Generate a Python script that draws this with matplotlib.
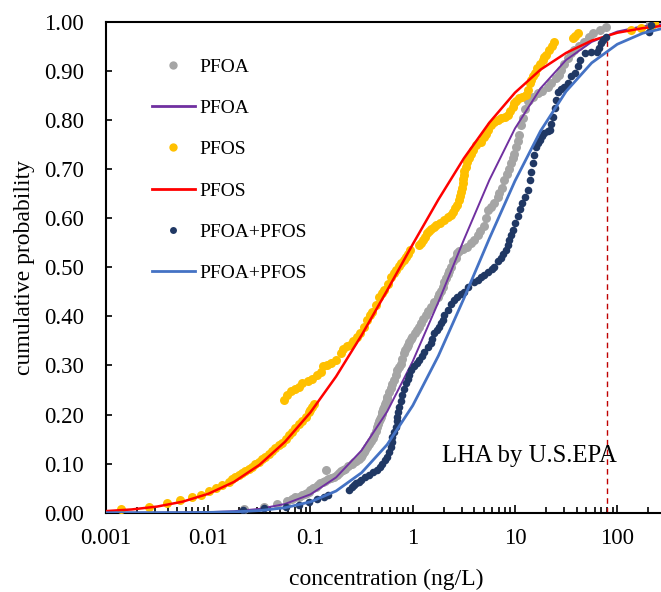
import numpy as np
import matplotlib
matplotlib.use("Agg")
import matplotlib.pyplot as plt
from matplotlib.lines import Line2D
from matplotlib.ticker import FixedLocator, FuncFormatter, LogLocator, NullFormatter

plt.rcParams['font.family'] = ['Liberation Serif', 'DejaVu Serif']

# ---- observed data (concentration ng/L, cumulative probability) ----
pfoa_x = [0.0222, 0.0348, 0.047, 0.059, 0.066, 0.071, 0.077, 0.083, 0.088, 0.092,
          0.096, 0.100, 0.106, 0.112, 0.118, 0.125, 0.132, 0.14, 0.148, 0.157,
          0.143, 0.168, 0.18, 0.19, 0.20, 0.21, 0.22, 0.235, 0.256, 0.268,
          0.28, 0.295, 0.309, 0.32, 0.33, 0.345, 0.36, 0.375, 0.39, 0.405,
          0.42, 0.435, 0.45, 0.46, 0.47, 0.478, 0.486, 0.495, 0.505, 0.515,
          0.524, 0.535, 0.545, 0.555, 0.565, 0.585, 0.61, 0.632, 0.656, 0.68,
          0.707, 0.735, 0.762, 0.79, 0.822, 0.845, 0.87, 0.895, 0.92, 0.956,
          0.99, 1.05, 1.11, 1.15, 1.2, 1.27, 1.34, 1.42, 1.5, 1.62,
          1.75, 1.82, 1.88, 1.96, 2.04, 2.11, 2.2, 2.28, 2.36, 2.5,
          2.64, 2.74, 2.85, 3.1, 3.4, 3.7, 3.95, 4.31, 4.6, 5.0,
          5.2, 5.4, 5.8, 6.27, 6.76, 7.0, 7.4, 7.85, 8.4, 8.8,
          9.1, 9.5, 9.8, 10.2, 10.6, 11.0, 11.5, 11.9, 12.6, 13.3,
          13.8, 15.0, 16.7, 18.5, 20.9, 22.5, 25.2, 26.7, 28.3, 30.5,
          32.9, 35.4, 38.1, 42.5, 47.8, 52.5, 57.8, 67.1, 78, 207]
pfoa_y = [0.008, 0.012, 0.018, 0.024, 0.027, 0.031, 0.033, 0.036, 0.038, 0.041,
          0.043, 0.046, 0.050, 0.053, 0.057, 0.060, 0.062, 0.065, 0.068, 0.070,
          0.087, 0.073, 0.077, 0.080, 0.084, 0.087, 0.090, 0.095, 0.100, 0.103,
          0.106, 0.110, 0.114, 0.118, 0.123, 0.128, 0.134, 0.140, 0.146, 0.152,
          0.158, 0.166, 0.175, 0.180, 0.186, 0.191, 0.196, 0.201, 0.206, 0.211,
          0.216, 0.221, 0.226, 0.231, 0.236, 0.245, 0.254, 0.262, 0.270, 0.280,
          0.290, 0.297, 0.304, 0.314, 0.325, 0.331, 0.337, 0.342, 0.348, 0.355,
          0.359, 0.366, 0.372, 0.379, 0.386, 0.395, 0.403, 0.411, 0.420, 0.430,
          0.440, 0.446, 0.452, 0.460, 0.470, 0.478, 0.486, 0.493, 0.501, 0.512,
          0.520, 0.529, 0.533, 0.537, 0.542, 0.549, 0.556, 0.565, 0.574, 0.585,
          0.600, 0.617, 0.624, 0.631, 0.644, 0.651, 0.662, 0.678, 0.690, 0.700,
          0.712, 0.722, 0.732, 0.745, 0.758, 0.770, 0.790, 0.805, 0.822, 0.838,
          0.841, 0.848, 0.855, 0.860, 0.867, 0.875, 0.885, 0.893, 0.902, 0.914,
          0.926, 0.936, 0.943, 0.951, 0.960, 0.969, 0.977, 0.984, 0.990, 0.997]

pfos_x = [0.00139, 0.00266, 0.00394, 0.0053, 0.0069, 0.0085, 0.0101, 0.0119, 0.0137, 0.0158,
          0.0171, 0.0184, 0.0199, 0.0214, 0.0231, 0.0249, 0.0268, 0.0289, 0.0312, 0.0336,
          0.0362, 0.039, 0.0421, 0.0454, 0.049, 0.0528, 0.057, 0.0614, 0.0662, 0.0713,
          0.0769, 0.0829, 0.0894, 0.0964, 0.100, 0.104, 0.108,
          0.0548, 0.059, 0.064, 0.070, 0.077, 0.083, 0.094, 0.104, 0.117, 0.127,
          0.134, 0.146, 0.160, 0.178, 0.201, 0.210, 0.227, 0.244, 0.262, 0.285,
          0.307, 0.332, 0.36, 0.38, 0.403, 0.435, 0.47, 0.50, 0.527, 0.57,
          0.614, 0.65, 0.69, 0.73, 0.77, 0.82, 0.865, 0.90, 0.93,
          1.15, 1.2, 1.26, 1.32, 1.39, 1.45, 1.52, 1.6, 1.68, 1.85,
          2.03, 2.2, 2.36, 2.5, 2.6, 2.72, 2.85, 2.92, 2.98, 3.02,
          3.07, 3.11, 3.15, 3.2, 3.31, 3.43, 3.55, 3.7, 3.85, 4.2,
          4.64, 5.0, 5.2, 5.4, 5.8, 6.27, 6.8, 7.3, 8.0, 8.5,
          9.0, 9.5, 9.8, 10.2, 11.0, 11.6, 12.7, 13.3, 14.1, 14.5,
          14.9, 15.7, 16.6, 17.6, 18.6, 19.2, 20.0, 21.7, 23.0, 24.3,
          36.7, 39.0, 41.2, 137, 172, 214, 231]
pfos_y = [0.008, 0.012, 0.019, 0.025, 0.031, 0.037, 0.044, 0.051, 0.057, 0.063,
          0.068, 0.072, 0.076, 0.080, 0.085, 0.089, 0.094, 0.099, 0.104, 0.109,
          0.114, 0.120, 0.125, 0.131, 0.137, 0.143, 0.150, 0.158, 0.165, 0.172,
          0.180, 0.187, 0.196, 0.205, 0.210, 0.216, 0.221,
          0.230, 0.240, 0.247, 0.252, 0.257, 0.264, 0.268, 0.273, 0.281, 0.287,
          0.298, 0.300, 0.305, 0.311, 0.325, 0.334, 0.340, 0.342, 0.350, 0.358,
          0.366, 0.379, 0.393, 0.402, 0.410, 0.423, 0.440, 0.447, 0.454, 0.467,
          0.481, 0.488, 0.495, 0.502, 0.508, 0.515, 0.522, 0.528, 0.535,
          0.545, 0.550, 0.556, 0.562, 0.569, 0.574, 0.578, 0.582, 0.586, 0.591,
          0.596, 0.602, 0.607, 0.613, 0.620, 0.628, 0.637, 0.645, 0.654, 0.662,
          0.671, 0.680, 0.688, 0.697, 0.705, 0.714, 0.722, 0.731, 0.739, 0.750,
          0.756, 0.765, 0.772, 0.780, 0.790, 0.797, 0.801, 0.805, 0.807, 0.810,
          0.818, 0.827, 0.834, 0.838, 0.845, 0.848, 0.852, 0.861, 0.875, 0.882,
          0.889, 0.897, 0.906, 0.914, 0.923, 0.928, 0.933, 0.943, 0.952, 0.960,
          0.967, 0.972, 0.977, 0.984, 0.987, 0.990, 0.997]

sum_x = [0.022, 0.035, 0.057, 0.077, 0.096, 0.116, 0.135, 0.15, 0.237, 0.256,
         0.268, 0.28, 0.295, 0.309, 0.34, 0.372, 0.41, 0.45, 0.48, 0.505,
         0.535, 0.565, 0.59, 0.61, 0.622, 0.633, 0.66, 0.684, 0.696, 0.707,
         0.72, 0.73, 0.76, 0.79, 0.82, 0.855, 0.89, 0.92, 0.97, 1.03,
         1.09, 1.15, 1.22, 1.29, 1.4, 1.5, 1.56, 1.62, 1.72, 1.82,
         1.9, 1.96, 2.03, 2.19, 2.36, 2.55, 2.74, 2.95, 3.15, 3.5,
         3.99, 4.31, 4.7, 5.0, 5.4, 5.9, 6.27, 6.76, 7.3, 7.7,
         8.1, 8.5, 8.8, 9.1, 9.5, 10.0, 10.6, 11.2, 11.8, 12.4,
         13.3, 13.9, 14.4, 14.9, 15.5, 16.1, 16.7, 17.4, 18.4, 19.4,
         20.9, 21.8, 22.6, 23.5, 24.4, 25.4, 26.4, 28.2, 30.5, 32.9,
         35.4, 38.5, 41.0, 43.2, 48.5, 56, 63.7, 66, 68.9, 73,
         77.5, 206, 214]
sum_y = [0.005, 0.009, 0.012, 0.016, 0.022, 0.027, 0.032, 0.036, 0.046, 0.053,
         0.056, 0.060, 0.063, 0.067, 0.072, 0.077, 0.082, 0.087, 0.093, 0.100,
         0.107, 0.114, 0.124, 0.134, 0.144, 0.155, 0.165, 0.175, 0.186, 0.196,
         0.206, 0.216, 0.228, 0.240, 0.252, 0.264, 0.273, 0.281, 0.290, 0.298,
         0.305, 0.311, 0.320, 0.328, 0.337, 0.345, 0.355, 0.366, 0.373, 0.379,
         0.386, 0.393, 0.403, 0.413, 0.425, 0.433, 0.440, 0.445, 0.450, 0.460,
         0.470, 0.474, 0.481, 0.485, 0.490, 0.497, 0.501, 0.512, 0.520, 0.528,
         0.535, 0.545, 0.556, 0.566, 0.576, 0.590, 0.605, 0.618, 0.632, 0.644,
         0.658, 0.678, 0.695, 0.712, 0.728, 0.746, 0.753, 0.760, 0.767, 0.773,
         0.778, 0.780, 0.793, 0.807, 0.825, 0.841, 0.858, 0.863, 0.868, 0.875,
         0.889, 0.896, 0.910, 0.923, 0.936, 0.938, 0.939, 0.948, 0.957, 0.963,
         0.970, 0.980, 0.994]

# ---- fitted curves ----
fit_x = [0.001, 0.00178, 0.00316, 0.00562, 0.01, 0.0178, 0.0316, 0.0562, 0.1, 0.178,
         0.316, 0.562, 1, 1.78, 3.16, 5.62, 10, 17.8, 31.6, 56.2, 100, 178, 316]
fit_pfoa = [0.0, 0.0, 0.0001, 0.0004, 0.0011, 0.0030, 0.0077, 0.0177, 0.0374, 0.0719,
            0.127, 0.206, 0.3085, 0.429, 0.556, 0.678, 0.783, 0.865, 0.9226, 0.9594,
            0.9805, 0.9915, 0.9966]
fit_pfos = [0.0033, 0.0066, 0.0125, 0.0225, 0.0385, 0.0626, 0.0973, 0.1443, 0.2046, 0.2776,
            0.3617, 0.453, 0.547, 0.638, 0.722, 0.795, 0.856, 0.903, 0.937, 0.962,
            0.978, 0.9875, 0.9934]
fit_sum = [0.0, 0.0, 0.0001, 0.0002, 0.0006, 0.0017, 0.0043, 0.0101, 0.0221, 0.0442,
           0.0815, 0.1387, 0.2183, 0.3195, 0.4363, 0.5589, 0.6761, 0.778, 0.8586, 0.9166,
           0.9546, 0.9772, 0.9895]

lha = 80        # ng/L
lha_top = 0.963

c_gray, c_purple = '#A5A5A5', '#7030A0'
c_yellow, c_red = '#FFC000', '#FF0000'
c_navy, c_blue = '#203864', '#4472C4'

fig = plt.figure(figsize=(6.61, 5.92), dpi=100)
ax = fig.add_axes([106/661, 1 - 512.7/592, 560/661, 490.7/592])

ax.scatter(pfoa_x, pfoa_y, s=42, color=c_gray, lw=0, zorder=3)
ax.plot(fit_x, fit_pfoa, color=c_purple, lw=1.4, zorder=4)
ax.scatter(pfos_x, pfos_y, s=42, color=c_yellow, lw=0, zorder=5)
ax.plot(fit_x, fit_pfos, color=c_red, lw=1.8, zorder=6)
ax.scatter(sum_x, sum_y, s=30, color=c_navy, lw=0, zorder=7)
ax.plot(fit_x, fit_sum, color=c_blue, lw=2.0, zorder=8)

ax.plot([lha, lha], [0, lha_top], color='#C00000', lw=1.0, ls=(0, (4, 3)), zorder=2)
ax.text(100, 0.116, 'LHA by U.S.EPA', ha='right', va='center', fontsize=17.8)

ax.set_xscale('log')
ax.set_xlim(0.001, 300)
ax.set_ylim(0, 1.0)
ax.xaxis.set_major_locator(FixedLocator([0.001, 0.01, 0.1, 1, 10, 100]))
ax.xaxis.set_major_formatter(FuncFormatter(lambda v, p: f'{v:g}'))
ax.xaxis.set_minor_locator(LogLocator(base=10, subs=np.arange(2, 10)))
ax.xaxis.set_minor_formatter(NullFormatter())
ax.set_yticks(np.arange(0, 1.01, 0.1))
ax.yaxis.set_major_formatter(FuncFormatter(lambda v, p: f'{v:.2f}'))

ax.tick_params(axis='both', which='both', direction='in', labelsize=16.5, width=1.2)
ax.tick_params(axis='x', which='major', length=6, pad=11)
ax.tick_params(axis='x', which='minor', length=4)
ax.tick_params(axis='y', which='major', length=4, pad=16)
ax.tick_params(top=False, right=False)
for side in ['left', 'bottom', 'top']:
    ax.spines[side].set_linewidth(1.5)
ax.spines['right'].set_visible(False)

ax.set_xlabel('concentration (ng/L)', fontsize=17, labelpad=14)
ax.set_ylabel('cumulative probability', fontsize=17, labelpad=6)

handles = [
    Line2D([], [], ls='none', marker='o', ms=6, color=c_gray, mew=0),
    Line2D([], [], color=c_purple, lw=2.0),
    Line2D([], [], ls='none', marker='o', ms=6, color=c_yellow, mew=0),
    Line2D([], [], color=c_red, lw=2.0),
    Line2D([], [], ls='none', marker='o', ms=5, color=c_navy, mew=0),
    Line2D([], [], color=c_blue, lw=2.0),
]
labels = ['PFOA', 'PFOA', 'PFOS', 'PFOS', 'PFOA+PFOS', 'PFOA+PFOS']
fig.legend(handles, labels, loc='upper left', bbox_to_anchor=(152/661, 1 - 58/592),
           frameon=False, fontsize=14, handlelength=2.2, handletextpad=0.25,
           labelspacing=1.22, borderpad=0, borderaxespad=0)

fig.savefig('out.png', dpi=100)
